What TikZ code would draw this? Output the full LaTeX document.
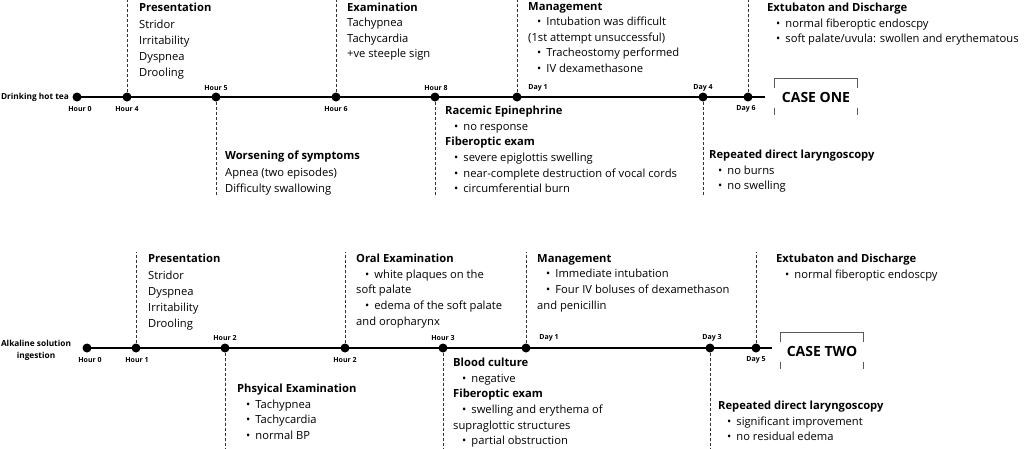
\documentclass[tikz,border=0pt]{standalone}
\usepackage{fontspec}
\setmainfont{Open Sans}
\newcommand{\itm}{\hspace*{9pt}\textbullet\hspace{5pt}}

\begin{document}
\begin{tikzpicture}[x=1pt, y=-1pt,
    event/.style ={circle, fill, inner sep=0pt, minimum size=9pt},
    stamp/.style ={font=\fontsize{7}{8}\selectfont\bfseries, inner sep=0pt},
    start/.style ={font=\fontsize{8.3}{12}\selectfont\bfseries, inner sep=0pt},
    guide/.style ={densely dashed, line width=0.6pt, black!80},
    notes/.style ={anchor=north west, align=left, inner sep=0pt,
                   font=\fontsize{11.2}{15.6}\selectfont,
                   execute at begin node={\rule{0pt}{9pt}}},
    wide/.style ={font=\fontsize{11.2}{16.3}\selectfont},
    casebox/.style ={font=\fontsize{14}{16}\selectfont\bfseries, inner sep=0pt,
                     minimum width=82pt, minimum height=36pt},
    frame/.style ={line width=0.7pt, black!65}]
   \useasboundingbox (0,0) rectangle (1026,448);

   % case one
   \node[start, anchor=east] (s1) at (69,97) {Drinking hot tea};
   \node[event] (a0) at (77,97) {};
   \node[event] (a4) at (127,97) {};
   \node[event] (a5) at (216,97) {};
   \node[event] (a6) at (336,97) {};
   \node[event] (a8) at (435,97) {};
   \node[event] (ad1) at (517,97) {};
   \node[event] (ad4) at (703,97) {};
   \node[event] (ad6) at (748,97) {};
   \coordinate (aend) at (765,97);
   \draw[line width=1.1pt] (a0.center) -- (aend);

   \node[stamp] (ta0) at (80,109) {Hour 0};
   \node[stamp] (ta4) at (127,109) {Hour 4};
   \node[stamp] (ta5) at (216,88) {Hour 5};
   \node[stamp] (ta6) at (336,109) {Hour 6};
   \node[stamp] (ta8) at (436,88) {Hour 8};
   \node[stamp] (tad1) at (538,88) {Day 1};
   \node[stamp] (tad4) at (703,88) {Day 4};
   \node[stamp] (tad6) at (746,109) {Day 6};

   \coordinate (ua4) at (127,0);
   \coordinate (ua6) at (336,0);
   \coordinate (uad1) at (517,0);
   \coordinate (uad6) at (748,0);
   \coordinate (da5) at (216,195);
   \coordinate (da8) at (435,195);
   \coordinate (dad4) at (703,195);
   \draw[guide] (a4) -- (ua4);
   \draw[guide] (a6) -- (ua6);
   \draw[guide] (ad1) -- (uad1);
   \draw[guide] (ad6) -- (uad6);
   \draw[guide] (a5) -- (da5);
   \draw[guide] (a8) -- (da8);
   \draw[guide] (ad4) -- (dad4);

   \node[notes, wide] (n1) at (139,3) {\textbf{Presentation}\\ Stridor\\ Irritability\\ Dyspnea\\ Drooling};
   \node[notes] (n2) at (347,2.3) {\textbf{Examination}\\ Tachypnea\\ Tachycardia\\ +ve steeple sign};
   \node[notes] (n3) at (528,2) {\textbf{Management}\\ \itm Intubation was difficult\\
      (1st attempt unsuccessful)\\ \itm Tracheostomy performed\\ \itm IV dexamethasone};
   \node[notes] (n4) at (767,3) {\textbf{Extubaton and Discharge}\\ \itm normal fiberoptic endoscpy\\
      \itm soft palate/uvula: swollen and erythematous};
   \node[notes, wide] (n5) at (225,151) {\textbf{Worsening of symptoms}\\ Apnea (two episodes)\\ Difficulty swallowing};
   \node[notes] (n6) at (445,106) {\textbf{Racemic Epinephrine}\\ \itm no response\\ \textbf{Fiberoptic exam}\\
      \itm severe epiglottis swelling\\ \itm near-complete destruction of vocal cords\\ \itm circumferential burn};
   \node[notes] (n7) at (709,150) {\textbf{Repeated direct laryngoscopy}\\ \itm no burns\\ \itm no swelling};

   \node[casebox] (c1) at (816,97) {CASE ONE};
   \draw[frame] ([yshift=-9pt]c1.north west) -- (c1.north west) -- (c1.north east) -- ([yshift=-9pt]c1.north east);
   \draw[frame] ([yshift=7pt]c1.south west) -- (c1.south west);
   \draw[frame] ([yshift=7pt]c1.south east) -- (c1.south east);

   % case two
   \node[start, align=center] (s2) at (36,350) {Alkaline solution\\ ingestion};
   \node[event] (b0) at (87,348) {};
   \node[event] (b1) at (136,348) {};
   \node[event] (b2) at (225,348) {};
   \node[event] (b2b) at (345,348) {};
   \node[event] (b3) at (443,348) {};
   \node[event] (bd1) at (526,348) {};
   \node[event] (bd3) at (710,348) {};
   \node[event] (bd5) at (756,348) {};
   \coordinate (bend) at (772,348);
   \draw[line width=1.1pt] (b0.center) -- (bend);

   \node[stamp] (tb0) at (90,360) {Hour 0};
   \node[stamp] (tb1) at (137,360) {Hour 1};
   \node[stamp] (tb2) at (225,338) {Hour 2};
   \node[stamp] (tb2b) at (345,360) {Hour 2};
   \node[stamp] (tb3) at (443,338) {Hour 3};
   \node[stamp] (tbd1) at (549,338) {Day 1};
   \node[stamp] (tbd3) at (712,338) {Day 3};
   \node[stamp] (tbd5) at (756,360) {Day 5};

   \coordinate (ub1) at (136,252);
   \coordinate (ub2b) at (345,252);
   \coordinate (ubd1) at (526,252);
   \coordinate (ubd5) at (756,252);
   \coordinate (db2) at (225,448);
   \coordinate (db3) at (443,448);
   \coordinate (dbd3) at (710,448);
   \draw[guide] (b1) -- (ub1);
   \draw[guide] (b2b) -- (ub2b);
   \draw[guide] (bd1) -- (ubd1);
   \draw[guide] (bd5) -- (ubd5);
   \draw[guide] (b2) -- (db2);
   \draw[guide] (b3) -- (db3);
   \draw[guide] (bd3) -- (dbd3);

   \node[notes, wide] (m1) at (148,254) {\textbf{Presentation}\\ Stridor\\ Dyspnea\\ Irritability\\ Drooling};
   \node[notes] (m2) at (356,254) {\textbf{Oral Examination}\\ \itm white plaques on the\\ soft palate\\
      \itm edema of the soft palate\\ and oropharynx};
   \node[notes] (m3) at (537,254) {\textbf{Management}\\ \itm Immediate intubation\\
      \itm Four IV boluses of dexamethason\\ and penicillin};
   \node[notes] (m4) at (776,254) {\textbf{Extubaton and Discharge}\\ \itm normal fiberoptic endoscpy};
   \node[notes] (m5) at (237,384) {\textbf{Phsyical Examination}\\ \itm Tachypnea\\ \itm Tachycardia\\ \itm normal BP};
   \node[notes] (m6) at (453,358) {\textbf{Blood culture}\\ \itm negative\\ \textbf{Fiberoptic exam}\\
      \itm swelling and erythema of\\ supraglottic structures\\ \itm partial obstruction};
   \node[notes] (m7) at (718,401) {\textbf{Repeated direct laryngoscopy}\\ \itm significant improvement\\ \itm no residual edema};

   \node[casebox] (c2) at (822,351) {CASE TWO};
   \draw[frame] ([yshift=-9pt]c2.north west) -- (c2.north west) -- (c2.north east) -- ([yshift=-9pt]c2.north east);
   \draw[frame] ([yshift=7pt]c2.south west) -- (c2.south west);
   \draw[frame] ([yshift=7pt]c2.south east) -- (c2.south east);
 \end{tikzpicture}
\end{document}
